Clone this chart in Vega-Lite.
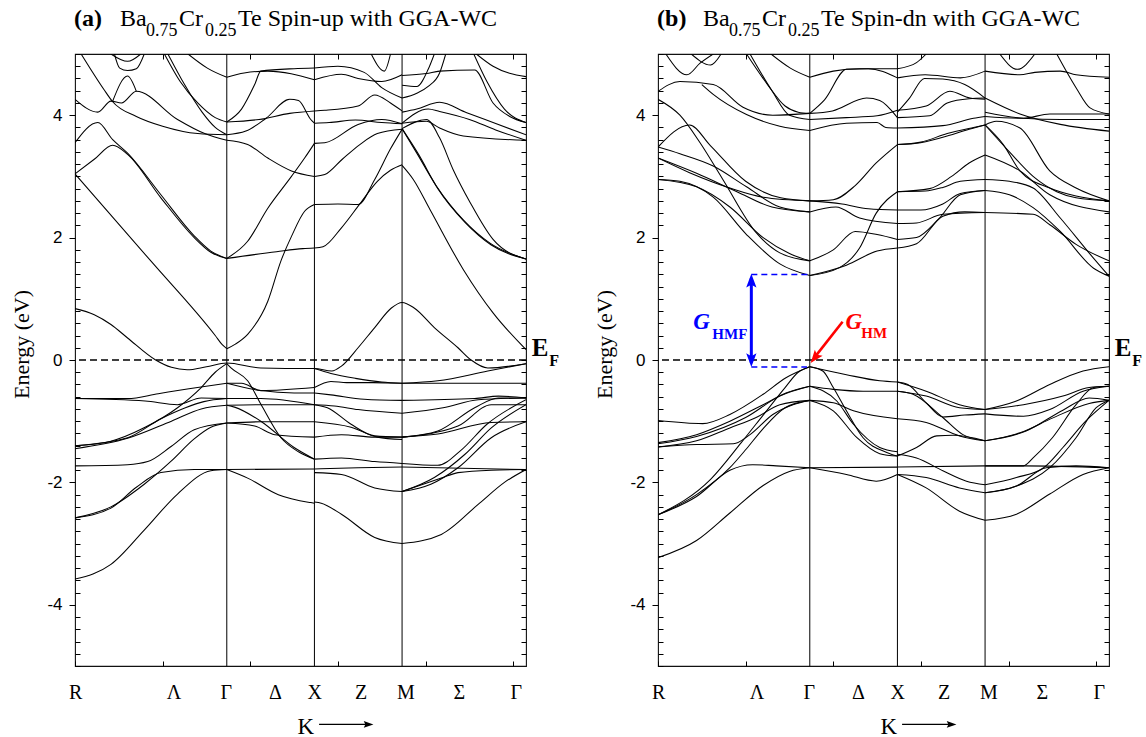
{
"$schema": "https://vega.github.io/schema/vega-lite/v6.json",
"background": "white",
"padding": {"left": 9, "top": 6, "right": 0, "bottom": 0},
"config": {"font": "Liberation Serif", "view": {"stroke": "#111", "strokeWidth": 1.1}, "axis": {"titleFont": "Liberation Serif"}},
"bounds": "flush",
"spacing": 132,
"datasets": {
"bands": [
{"p":"a","b":"a1","k":[0,0.22,0.41,0.6,0.92,1.1,1.28,1.5,1.732,2.12,2.69,2.732,2.93,3.04,3.23,3.42,3.61,3.732,3.87,4.1,4.37,4.52,4.71,5.146],"e":[0.84,0.74,0.58,0.36,0.0,-0.12,-0.16,-0.11,-0.05,-0.13,-0.14,-0.14,-0.18,-0.1,0.2,0.53,0.85,0.94,0.85,0.53,0.2,0.0,-0.13,-0.06]},
{"p":"a","b":"a2","k":[0,0.87,1.6,1.68,1.732],"e":[3.04,1.61,0.4,0.25,0.185]},
{"p":"a","b":"a3","k":[0,0.22,0.43,0.6,0.98,1.36,1.55,1.732],"e":[3.04,3.28,3.51,3.36,2.65,2.0,1.76,1.66]},
{"p":"a","b":"a4","k":[0,0.26,0.43,0.6,0.98,1.36,1.55,1.732],"e":[3.55,3.88,3.6,3.38,2.7,2.03,1.78,1.66]},
{"p":"a","b":"a5","k":[0,0.26,0.41,0.53,0.7,1.17,1.48,1.732],"e":[4.26,4.05,4.23,4.2,4.39,3.93,3.7,3.59]},
{"p":"a","b":"a6","k":[0.07,0.33,0.43,0.7,1.0,1.4,1.732],"e":[5.0,4.42,4.22,3.98,3.82,3.7,3.68]},
{"p":"a","b":"a6b","k":[0.43,0.6,0.7],"e":[4.23,4.64,4.39]},
{"p":"a","b":"a7","k":[0.41,0.6,0.75],"e":[5.0,4.88,5.0]},
{"p":"a","b":"a7b","k":[0.45,0.51,0.6,0.7,0.79],"e":[5.0,4.77,4.73,4.76,5.0]},
{"p":"a","b":"a8","k":[1.02,1.2,1.4,1.6,1.732],"e":[5.0,4.55,4.2,3.96,3.89]},
{"p":"a","b":"a9","k":[1.06,1.25,1.45,1.6,1.732],"e":[5.0,4.5,4.05,3.8,3.68]},
{"p":"a","b":"a10","k":[1.29,1.51,1.732],"e":[5.0,4.77,4.62]},
{"p":"a","b":"b1","k":[1.732,1.93,2.2,2.732],"e":[4.62,4.69,4.72,4.58]},
{"p":"a","b":"b2","k":[1.732,1.9,2.05,2.12,2.5,2.732],"e":[3.89,4.1,4.5,4.72,4.76,4.77]},
{"p":"a","b":"b3","k":[1.732,2.1,2.45,2.732],"e":[3.89,3.93,4.03,4.07]},
{"p":"a","b":"b4","k":[1.732,1.95,2.18,2.45,2.55,2.69,2.732],"e":[3.68,3.74,3.95,4.26,4.24,3.93,3.87]},
{"p":"a","b":"b5","k":[1.732,1.97,2.2,2.47,2.732],"e":[3.59,3.52,3.3,3.09,3.0]},
{"p":"a","b":"b6","k":[1.732,1.97,2.2,2.47,2.62,2.732],"e":[1.66,1.94,2.48,3.0,3.3,3.54]},
{"p":"a","b":"b7","k":[1.732,2.3,2.6,2.732],"e":[1.66,1.77,1.82,1.83]},
{"p":"a","b":"b8","k":[1.732,1.83,1.97,2.2,2.35,2.47,2.62,2.732],"e":[0.185,0.26,0.42,0.96,1.62,2.02,2.43,2.54]},
{"p":"a","b":"c1","k":[2.732,2.83,3.04,3.25,3.45,3.6,3.732],"e":[1.83,1.85,2.16,2.55,2.92,3.1,3.19]},
{"p":"a","b":"c2","k":[2.732,3.0,3.23,3.42,3.6,3.732],"e":[2.54,2.55,2.54,2.95,3.45,3.77]},
{"p":"a","b":"c3","k":[2.732,2.85,3.05,3.25,3.45,3.732],"e":[3.0,3.03,3.28,3.52,3.7,3.77]},
{"p":"a","b":"c4","k":[2.732,2.85,3.23,3.5,3.732],"e":[3.54,3.55,3.85,3.93,3.86]},
{"p":"a","b":"c5","k":[2.732,2.9,3.2,3.5,3.732],"e":[3.87,3.88,3.92,3.88,3.86]},
{"p":"a","b":"c6","k":[2.732,2.85,3.23,3.42,3.6,3.732],"e":[4.07,4.08,4.15,4.33,4.2,4.07]},
{"p":"a","b":"c7","k":[2.732,3.04,3.23,3.5,3.732],"e":[4.58,4.67,4.6,4.55,4.66]},
{"p":"a","b":"c8","k":[2.732,3.0,3.3,3.5,3.732],"e":[4.77,4.8,4.7,4.45,4.28]},
{"p":"a","b":"c9","k":[3.38,3.53,3.6],"e":[5.0,4.72,5.0]},
{"p":"a","b":"d1","k":[3.732,3.9,4.125,4.43,4.735,5.146],"e":[3.78,3.38,2.84,2.29,1.91,1.65]},
{"p":"a","b":"d1b","k":[3.732,3.92,4.14,4.45,4.75,5.146],"e":[3.78,3.36,2.8,2.25,1.88,1.65]},
{"p":"a","b":"d2","k":[3.732,3.86,4.05,4.43,4.77,5.146],"e":[3.18,2.95,2.46,1.48,0.77,0.17]},
{"p":"a","b":"d3","k":[3.732,4.01,4.16,4.315,4.51,4.77,5.146],"e":[3.78,3.93,3.63,3.11,2.57,1.97,1.65]},
{"p":"a","b":"d4","k":[3.732,4.01,4.16,4.56,4.77,4.96,5.146],"e":[4.65,4.68,4.72,4.74,4.2,3.98,3.88]},
{"p":"a","b":"d5","k":[4.58,4.77,5.146],"e":[5.0,4.8,4.63]},
{"p":"a","b":"d5b","k":[4.55,4.7,4.9,5.146],"e":[5.0,4.55,4.1,3.88]},
{"p":"a","b":"d6","k":[3.732,3.9,4.16,4.47,4.77,5.146],"e":[4.05,4.1,4.21,4.04,3.88,3.68]},
{"p":"a","b":"d7","k":[3.732,4.03,4.16,4.5,4.8,5.146],"e":[3.87,4.1,4.06,3.93,3.76,3.59]},
{"p":"a","b":"d8","k":[3.732,4.01,4.16,4.43,5.146],"e":[3.87,3.9,3.79,3.66,3.59]},
{"p":"a","b":"d9","k":[3.732,3.9,4.03,4.16,4.23],"e":[4.28,4.36,4.47,4.69,5.0]},
{"p":"a","b":"d10","k":[3.732,3.9,4.03,4.1],"e":[4.49,4.47,4.75,5.0]},
{"p":"a","b":"v1","k":[0,0.6,0.95,1.3,1.732],"e":[-0.63,-0.63,-0.55,-0.47,-0.38]},
{"p":"a","b":"v2","k":[0,0.8,1.17,1.44,1.732],"e":[-0.63,-0.67,-0.73,-0.62,-0.63]},
{"p":"a","b":"v3","k":[0,0.4,0.8,1.17,1.44,1.6,1.732],"e":[-1.4,-1.33,-1.1,-0.78,-0.45,-0.2,-0.06]},
{"p":"a","b":"v4","k":[0,0.6,0.98,1.26,1.47,1.732],"e":[-1.4,-1.27,-0.96,-0.78,-0.68,-0.63]},
{"p":"a","b":"v5","k":[0,0.6,1.1,1.44,1.732],"e":[-1.45,-1.28,-1.0,-0.8,-0.74]},
{"p":"a","b":"v6","k":[0,0.6,0.83,1.1,1.36,1.732],"e":[-1.73,-1.71,-1.66,-1.41,-1.14,-1.03]},
{"p":"a","b":"v7","k":[0,0.41,0.79,1.1,1.36,1.55,1.732],"e":[-2.58,-2.4,-2.03,-1.65,-1.29,-1.1,-1.03]},
{"p":"a","b":"v8","k":[0,0.41,0.7,0.98,1.36,1.732],"e":[-2.58,-2.42,-2.08,-1.84,-1.79,-1.79]},
{"p":"a","b":"v9","k":[0,0.41,0.79,1.17,1.55,1.732],"e":[-3.58,-3.34,-2.78,-2.19,-1.81,-1.79]},
{"p":"a","b":"w1","k":[1.732,1.9,2.12,2.732],"e":[-0.38,-0.38,-0.5,-0.45]},
{"p":"a","b":"w2","k":[1.732,2.12,2.5,2.732],"e":[-0.38,-0.5,-0.54,-0.54]},
{"p":"a","b":"w3","k":[1.732,2.12,2.732],"e":[-0.63,-0.63,-0.73]},
{"p":"a","b":"w4","k":[1.732,2.12,2.732],"e":[-0.74,-0.73,-0.73]},
{"p":"a","b":"w5","k":[1.732,2.05,2.28,2.732],"e":[-1.03,-1.08,-1.22,-1.26]},
{"p":"a","b":"w6","k":[1.732,2.12,2.732],"e":[-1.03,-1.01,-1.01]},
{"p":"a","b":"w7","k":[1.732,1.78,1.97,2.12,2.35,2.55,2.732],"e":[-0.06,-0.13,-0.34,-0.72,-1.27,-1.5,-1.62]},
{"p":"a","b":"w8","k":[1.732,1.82,2.12,2.5,2.732],"e":[-0.74,-0.77,-1.0,-1.43,-1.62]},
{"p":"a","b":"w9","k":[1.732,2.732],"e":[-1.79,-1.78]},
{"p":"a","b":"w10","k":[1.732,1.97,2.32,2.69,2.732],"e":[-1.79,-1.93,-2.2,-2.33,-2.34]},
{"p":"a","b":"e1","k":[2.732,2.92,3.2,3.5,3.732],"e":[-0.14,-0.22,-0.3,-0.36,-0.38]},
{"p":"a","b":"e2","k":[2.732,2.92,3.1,3.4,3.732],"e":[-0.45,-0.35,-0.37,-0.37,-0.38]},
{"p":"a","b":"e3","k":[2.732,2.92,3.3,3.732],"e":[-0.54,-0.57,-0.64,-0.66]},
{"p":"a","b":"e4","k":[2.732,2.96,3.23,3.732],"e":[-0.73,-0.75,-0.81,-0.87]},
{"p":"a","b":"e5","k":[2.732,2.88,3.15,3.42,3.732],"e":[-0.73,-0.78,-1.05,-1.24,-1.26]},
{"p":"a","b":"e6","k":[2.732,3.15,3.45,3.732],"e":[-1.01,-1.1,-1.26,-1.3]},
{"p":"a","b":"e7","k":[2.732,3.04,3.42,3.732],"e":[-1.26,-1.22,-1.26,-1.26]},
{"p":"a","b":"e8","k":[2.732,3.04,3.42,3.732],"e":[-1.62,-1.6,-1.66,-1.69]},
{"p":"a","b":"e9","k":[2.732,3.23,3.732],"e":[-1.78,-1.76,-1.75]},
{"p":"a","b":"e10","k":[2.732,3.04,3.42,3.732],"e":[-1.84,-1.87,-2.09,-2.15]},
{"p":"a","b":"e11","k":[2.732,2.81,3.04,3.42,3.732],"e":[-2.32,-2.34,-2.52,-2.9,-3.0]},
{"p":"a","b":"f1","k":[3.732,4.14,4.71,5.146],"e":[-0.38,-0.34,-0.18,-0.06]},
{"p":"a","b":"f2","k":[3.732,5.146],"e":[-0.38,-0.38]},
{"p":"a","b":"f3","k":[3.732,4.56,4.83,5.146],"e":[-0.66,-0.63,-0.59,-0.62]},
{"p":"a","b":"f4","k":[3.732,4.2,4.6,5.146],"e":[-0.87,-0.78,-0.65,-0.62]},
{"p":"a","b":"f5","k":[3.732,4.14,4.56,4.83,5.146],"e":[-1.26,-1.16,-0.78,-0.62,-0.62]},
{"p":"a","b":"f6","k":[3.732,4.37,4.75,5.146],"e":[-1.26,-1.08,-0.73,-0.73]},
{"p":"a","b":"f7","k":[3.732,4.14,4.75,5.146],"e":[-1.26,-1.21,-1.02,-1.01]},
{"p":"a","b":"f8","k":[3.732,4.14,4.4,4.7,5.146],"e":[-1.69,-1.72,-1.48,-1.05,-0.65]},
{"p":"a","b":"f9","k":[3.732,4.06,4.37,4.75,5.146],"e":[-2.15,-2.03,-1.76,-1.27,-1.01]},
{"p":"a","b":"f10","k":[3.732,4.1,4.45,4.75,5.146],"e":[-2.15,-1.92,-1.54,-1.11,-0.73]},
{"p":"a","b":"f11","k":[3.732,4.18,4.37,4.75,5.146],"e":[-2.15,-1.93,-1.84,-1.8,-1.79]},
{"p":"a","b":"f12","k":[3.732,4.18,4.6,4.9,5.146],"e":[-3.0,-2.85,-2.36,-2.0,-1.79]},
{"p":"a","b":"f13","k":[3.732,5.146],"e":[-1.75,-1.79]},
{"p":"b","b":"g1","k":[0,0.25,0.63,1.01,1.39,1.732],"e":[2.95,2.92,2.66,2.05,1.57,1.38]},
{"p":"b","b":"g2","k":[0,0.44,0.82,1.2,1.5,1.732],"e":[2.95,2.83,2.5,2.0,1.74,1.62]},
{"p":"b","b":"g3","k":[0,0.36,0.82,1.2,1.732],"e":[3.3,3.06,2.81,2.66,2.6]},
{"p":"b","b":"g4","k":[0,0.36,0.6,1.0,1.4,1.732],"e":[3.48,3.84,3.5,2.92,2.65,2.6]},
{"p":"b","b":"g5","k":[0,0.25,0.63,1.01,1.39,1.732],"e":[3.48,3.37,3.17,2.83,2.5,2.42]},
{"p":"b","b":"g6","k":[0,0.44,0.9,1.3,1.732],"e":[3.3,3.05,2.75,2.5,2.42]},
{"p":"b","b":"g7","k":[0,0.25,0.48,0.74,1.12,1.39,1.732],"e":[4.26,4.0,3.55,2.95,2.08,1.75,1.62]},
{"p":"b","b":"g8","k":[0,0.25,0.63,0.97,1.31,1.732],"e":[4.39,4.55,4.5,4.13,4.0,4.03]},
{"p":"b","b":"g9","k":[0.09,0.33,0.48,0.63],"e":[5.0,4.66,4.85,5.0]},
{"p":"b","b":"g9b","k":[0.38,0.6,0.72],"e":[5.0,4.82,5.0]},
{"p":"b","b":"g10","k":[1.01,1.25,1.45,1.6,1.732],"e":[5.0,4.5,4.15,4.05,4.03]},
{"p":"b","b":"g11","k":[1.05,1.3,1.5,1.732],"e":[5.0,4.4,4.0,3.93]},
{"p":"b","b":"g12","k":[0.5,0.63,1.01,1.39,1.732],"e":[4.5,4.34,4.01,3.82,3.75]},
{"p":"b","b":"g13","k":[1.29,1.51,1.732],"e":[5.0,4.77,4.62]},
{"p":"b","b":"h1","k":[1.732,2.07,2.3,2.49,2.732],"e":[1.38,1.51,1.83,2.4,2.75]},
{"p":"b","b":"h2","k":[1.732,2.15,2.5,2.732],"e":[1.38,1.55,1.78,1.83]},
{"p":"b","b":"h3","k":[1.732,2.0,2.25,2.5,2.732],"e":[1.62,1.8,2.1,2.05,1.97]},
{"p":"b","b":"h4","k":[1.732,2.03,2.3,2.732],"e":[2.42,2.5,2.32,2.23]},
{"p":"b","b":"h5","k":[1.732,2.1,2.4,2.732],"e":[2.6,2.55,2.47,2.45]},
{"p":"b","b":"h6","k":[1.732,2.0,2.25,2.49,2.732],"e":[2.6,2.62,2.85,3.22,3.52]},
{"p":"b","b":"h7","k":[1.732,2.15,2.5,2.6,2.732],"e":[3.75,3.87,3.88,3.8,3.79]},
{"p":"b","b":"h8","k":[1.732,2.15,2.5,2.732],"e":[3.93,3.96,3.99,4.08]},
{"p":"b","b":"h9","k":[1.732,1.99,2.38,2.53,2.732],"e":[4.03,4.07,4.28,4.24,3.96]},
{"p":"b","b":"h10","k":[1.732,2.0,2.3,2.732],"e":[4.62,4.72,4.76,4.76]},
{"p":"b","b":"h11","k":[1.732,1.9,2.15,2.4,2.732],"e":[4.03,4.25,4.75,4.76,4.61]},
{"p":"b","b":"i1","k":[2.732,2.95,3.25,3.5,3.732],"e":[1.83,1.9,2.35,2.42,2.41]},
{"p":"b","b":"i2","k":[2.732,2.95,3.2,3.45,3.732],"e":[1.97,2.0,2.3,2.7,2.77]},
{"p":"b","b":"i3","k":[2.732,2.95,3.25,3.732],"e":[2.23,2.24,2.38,2.41]},
{"p":"b","b":"i4","k":[2.732,3.0,3.25,3.45,3.732],"e":[2.45,2.45,2.55,2.72,2.77]},
{"p":"b","b":"i5","k":[2.732,3.05,3.25,3.45,3.732],"e":[2.75,2.76,2.82,2.92,2.95]},
{"p":"b","b":"i13","k":[2.732,3.1,3.35,3.55,3.732],"e":[2.75,2.8,3.0,3.22,3.35]},
{"p":"b","b":"i6","k":[2.732,2.95,3.25,3.55,3.732],"e":[3.52,3.54,3.64,3.77,3.84]},
{"p":"b","b":"i6b","k":[2.732,3.0,3.3,3.6,3.732],"e":[3.52,3.56,3.7,3.8,3.84]},
{"p":"b","b":"i7","k":[2.732,3.25,3.6,3.732],"e":[3.79,3.83,3.95,3.98]},
{"p":"b","b":"i8","k":[2.732,3.1,3.3,3.55,3.732],"e":[3.96,3.99,4.2,4.27,4.28]},
{"p":"b","b":"i9","k":[2.732,3.06,3.33,3.56,3.732],"e":[4.08,4.15,4.39,4.28,4.26]},
{"p":"b","b":"i10","k":[2.732,3.05,3.45,3.732],"e":[4.61,4.66,4.61,4.72]},
{"p":"b","b":"i11","k":[2.732,2.87,3.04,3.25,3.5,3.732],"e":[4.05,4.28,4.6,4.59,4.5,4.28]},
{"p":"b","b":"i12","k":[2.732,2.95,3.06],"e":[4.76,4.86,5.0]},
{"p":"b","b":"j1","k":[3.732,3.94,4.13,4.47,4.77,5.146],"e":[3.84,3.52,3.09,2.81,2.68,2.6]},
{"p":"b","b":"j2","k":[3.732,4.01,4.28,4.55,4.77,5.146],"e":[3.84,3.4,3.0,2.75,2.65,2.6]},
{"p":"b","b":"j3","k":[3.732,3.86,4.13,4.47,4.77,5.146],"e":[3.84,3.9,3.79,3.09,2.81,2.6]},
{"p":"b","b":"j4","k":[3.732,4.13,4.47,5.146],"e":[3.35,3.09,2.7,2.42]},
{"p":"b","b":"j5","k":[3.732,4.01,4.28,4.59,4.93,5.146],"e":[2.95,2.92,2.81,2.32,1.73,1.37]},
{"p":"b","b":"j6","k":[3.732,4.01,4.28,4.59,4.97,5.146],"e":[2.77,2.7,2.49,2.1,1.5,1.37]},
{"p":"b","b":"j7","k":[3.732,4.28,4.47,4.77,5.146],"e":[2.41,2.38,2.21,1.89,1.62]},
{"p":"b","b":"j8","k":[3.732,4.17,4.47,5.146],"e":[3.98,3.95,4.02,4.02]},
{"p":"b","b":"j9","k":[3.732,4.17,4.6,5.146],"e":[4.05,3.95,3.93,3.93]},
{"p":"b","b":"j10","k":[3.732,4.13,4.59,5.146],"e":[4.28,4.02,3.85,3.74]},
{"p":"b","b":"j11","k":[4.55,4.77,4.93,5.146],"e":[5.0,4.45,4.12,4.02]},
{"p":"b","b":"j12","k":[3.732,4.13,4.3,4.59,4.77,5.146],"e":[4.72,4.66,4.7,4.72,4.66,4.62]},
{"p":"b","b":"j13","k":[3.9,4.1,4.3],"e":[5.0,4.75,5.0]},
{"p":"b","b":"m1","k":[0,0.51,0.82,1.2,1.46,1.732],"e":[-0.99,-1.04,-0.89,-0.56,-0.29,-0.11]},
{"p":"b","b":"m2","k":[0,0.44,0.82,1.2,1.46,1.732],"e":[-1.35,-1.22,-1.0,-0.73,-0.54,-0.43]},
{"p":"b","b":"m3","k":[0,0.44,1.0,1.39,1.732],"e":[-1.37,-1.25,-0.94,-0.59,-0.43]},
{"p":"b","b":"m4","k":[0,0.44,0.86,1.05,1.31,1.54,1.732],"e":[-1.42,-1.38,-1.37,-1.22,-0.89,-0.73,-0.66]},
{"p":"b","b":"m5","k":[0,0.44,0.82,1.12,1.39,1.732],"e":[-1.42,-1.32,-1.11,-0.94,-0.73,-0.66]},
{"p":"b","b":"m6","k":[0,0.44,0.82,1.01,1.2,1.45,1.732],"e":[-2.53,-2.2,-1.76,-1.45,-1.12,-0.78,-0.66]},
{"p":"b","b":"m7","k":[0,0.44,0.82,1.08,1.35,1.732],"e":[-2.53,-2.23,-1.8,-1.71,-1.73,-1.76]},
{"p":"b","b":"m8","k":[0,0.44,0.82,1.2,1.5,1.732],"e":[-3.23,-2.95,-2.5,-2.05,-1.82,-1.76]},
{"p":"b","b":"m9","k":[0,0.6,0.95,1.2,1.45,1.6,1.732],"e":[-2.53,-1.95,-1.35,-0.9,-0.45,-0.2,-0.11]},
{"p":"b","b":"n1","k":[1.732,2.15,2.53,2.732],"e":[-0.11,-0.24,-0.34,-0.36]},
{"p":"b","b":"n2","k":[1.732,1.88,2.0,2.15,2.34,2.61,2.732],"e":[-0.11,-0.18,-0.45,-0.83,-1.27,-1.51,-1.57]},
{"p":"b","b":"n3","k":[1.732,2.0,2.34,2.732],"e":[-0.43,-0.48,-0.51,-0.51]},
{"p":"b","b":"n4","k":[1.732,2.04,2.23,2.53,2.732],"e":[-0.43,-0.67,-1.05,-1.43,-1.5]},
{"p":"b","b":"n5","k":[1.732,2.0,2.23,2.732],"e":[-0.66,-0.7,-0.83,-0.96]},
{"p":"b","b":"n6","k":[1.732,2.0,2.27,2.53,2.732],"e":[-0.66,-0.83,-1.27,-1.53,-1.57]},
{"p":"b","b":"n7","k":[1.732,2.15,2.49,2.732],"e":[-1.76,-1.87,-1.98,-1.87]},
{"p":"b","b":"n8","k":[1.732,2.732],"e":[-1.76,-1.75]},
{"p":"b","b":"o1","k":[2.732,3.06,3.44,3.732],"e":[-0.36,-0.51,-0.73,-0.81]},
{"p":"b","b":"o2","k":[2.732,3.06,3.44,3.732],"e":[-0.51,-0.59,-0.78,-0.81]},
{"p":"b","b":"o3","k":[2.732,2.85,3.06,3.25,3.5,3.732],"e":[-0.36,-0.4,-0.7,-0.93,-0.9,-0.88]},
{"p":"b","b":"o4","k":[2.732,2.91,3.25,3.48,3.732],"e":[-0.51,-0.56,-0.94,-1.22,-1.32]},
{"p":"b","b":"o5","k":[2.732,3.06,3.44,3.732],"e":[-0.96,-1.02,-1.24,-1.32]},
{"p":"b","b":"o6","k":[2.732,2.95,3.18,3.37,3.732],"e":[-1.57,-1.43,-1.24,-1.23,-1.32]},
{"p":"b","b":"o7","k":[2.732,3.732],"e":[-1.75,-1.73]},
{"p":"b","b":"o8","k":[2.732,2.95,3.25,3.52,3.732],"e":[-1.54,-1.6,-1.81,-1.98,-2.04]},
{"p":"b","b":"o9","k":[2.732,3.06,3.44,3.732],"e":[-1.87,-1.92,-2.09,-2.17]},
{"p":"b","b":"o10","k":[2.732,3.06,3.44,3.732],"e":[-1.87,-2.09,-2.47,-2.62]},
{"p":"b","b":"p1","k":[3.732,4.09,4.47,4.85,5.146],"e":[-0.81,-0.67,-0.4,-0.18,-0.11]},
{"p":"b","b":"p2","k":[3.732,4.17,4.62,4.92,5.146],"e":[-0.81,-0.73,-0.59,-0.45,-0.43]},
{"p":"b","b":"p3","k":[3.732,4.17,4.47,4.85,5.146],"e":[-0.88,-0.92,-0.81,-0.51,-0.43]},
{"p":"b","b":"p4","k":[3.732,4.2,4.62,4.92,5.146],"e":[-1.32,-1.16,-0.82,-0.62,-0.66]},
{"p":"b","b":"p5","k":[3.732,4.13,4.5,4.92,5.146],"e":[-1.32,-1.19,-0.95,-0.71,-0.66]},
{"p":"b","b":"p6","k":[3.732,4.17,4.28,4.5,4.77,4.97,5.146],"e":[-1.73,-1.73,-1.6,-1.27,-0.73,-0.45,-0.43]},
{"p":"b","b":"p7","k":[3.732,4.09,4.4,4.62,4.88,5.146],"e":[-2.04,-1.92,-1.76,-1.43,-1.0,-0.66]},
{"p":"b","b":"p8","k":[3.732,4.09,4.47,4.77,5.0,5.146],"e":[-2.17,-2.06,-1.76,-1.27,-0.78,-0.66]},
{"p":"b","b":"p9","k":[3.732,4.09,4.43,4.77,5.146],"e":[-2.17,-2.06,-1.76,-1.73,-1.76]},
{"p":"b","b":"p10","k":[3.732,4.09,4.47,4.85,5.146],"e":[-2.62,-2.52,-2.19,-1.87,-1.76]},
{"p":"b","b":"p11","k":[3.732,4.17,5.146],"e":[-1.73,-1.73,-1.76]}
],
"vlines": [{"k":1.732},{"k":2.732},{"k":3.732}],
"zero": [{"e":0}],
"kline": [{"k":2.785,"k2":3.32,"e":-5.955}],
"khead": [{"k":3.405,"e":-5.955}],
"tb": [{"p":"a","t":"(a)","k":-0.011,"e":5.462},{"p":"b","t":"(b)","k":-0.011,"e":5.462}],
"tm": [{"p":"a","t":"Ba","k":0.514,"e":5.462},{"p":"a","t":"Cr","k":1.187,"e":5.462},{"p":"a","t":"Te Spin-up with GGA-WC","k":1.861,"e":5.462},{"p":"b","t":"Ba","k":0.514,"e":5.462},{"p":"b","t":"Cr","k":1.187,"e":5.462},{"p":"b","t":"Te Spin-dn with GGA-WC","k":1.861,"e":5.462}],
"ts": [{"p":"a","t":"0.75","k":0.81,"e":5.299},{"p":"a","t":"0.25","k":1.484,"e":5.299},{"p":"b","t":"0.75","k":0.81,"e":5.299},{"p":"b","t":"0.25","k":1.484,"e":5.299}],
"ef": [{"p":"a","t":"E","k":5.213,"e":0.064},{"p":"b","t":"E","k":5.213,"e":0.064}],
"efs": [{"p":"a","t":"F","k":5.41,"e":-0.094},{"p":"b","t":"F","k":5.41,"e":-0.094}]
},
"hconcat": [
{
"width": 451, "height": 612,
"resolve": {"axis": {"x": "independent", "y": "independent"}},
"layer": [
{"data": {"name": "bands"}, "transform": [{"filter": "datum.p == 'a'"}, {"flatten": ["k", "e"]}],
 "mark": {"type": "line", "color": "black", "strokeWidth": 1.05, "clip": true, "interpolate": "monotone"},
 "encoding": {
  "x": {"field": "k", "type": "quantitative", "scale": {"domain": [0, 5.146], "nice": false, "zero": false},
   "axis": {"orient": "bottom", "values": [0, 0.001, 1, 1.124, 1.72, 2, 2.28, 2.73, 3, 3.26, 3.77, 4, 4.38, 5, 5.03],
    "labelExpr": "datum.value == 0.001 ? 'R' : datum.value == 1.124 ? 'Λ' : datum.value == 1.72 ? 'Γ' : datum.value == 2.28 ? 'Δ' : datum.value == 2.73 ? 'X' : datum.value == 3.26 ? 'Z' : datum.value == 3.77 ? 'M' : datum.value == 4.38 ? 'Σ' : datum.value == 5.03 ? 'Γ' : ''",
    "tickSize": {"condition": {"test": "datum.value == 0 || datum.value == 1 || datum.value == 2 || datum.value == 3 || datum.value == 4 || datum.value == 5", "value": -5}, "value": 0},
    "tickColor": "black", "labelFont": "Liberation Serif", "labelFontSize": 20, "labelColor": "black", "labelPadding": 16,
    "labelOverlap": false, "labelFlush": false, "labelBound": false, "domain": false, "grid": false,
    "title": "K", "titleFont": "Liberation Serif", "titleFontSize": 23, "titleFontWeight": "normal", "titleColor": "black",
    "titleX": 222, "titleY": 67, "titleAlign": "left", "titleBaseline": "alphabetic"}},
  "y": {"field": "e", "type": "quantitative", "scale": {"domain": [-5, 5], "nice": false, "zero": false},
   "axis": {"orient": "left", "values": [-5,-4.8,-4.6,-4.4,-4.2,-4,-3.8,-3.6,-3.4,-3.2,-3,-2.8,-2.6,-2.4,-2.2,-2,-1.8,-1.6,-1.4,-1.2,-1,-0.8,-0.6,-0.4,-0.2,0,0.2,0.4,0.6,0.8,1,1.2,1.4,1.6,1.8,2,2.2,2.4,2.6,2.8,3,3.2,3.4,3.6,3.8,4,4.2,4.4,4.6,4.8,5],
    "labelExpr": "(datum.value == -4 || datum.value == -2 || datum.value == 0 || datum.value == 2 || datum.value == 4) ? ((datum.value < 0 ? '-' : '') + abs(datum.value)) : ''",
    "tickSize": {"condition": {"test": "datum.value == -4 || datum.value == -2 || datum.value == 0 || datum.value == 2 || datum.value == 4", "value": 6}, "value": -5},
    "tickColor": "black", "labelFont": "Liberation Sans", "labelFontSize": 17, "labelColor": "black", "labelPadding": 7,
    "labelOverlap": false, "domain": false, "grid": false,
    "title": "Energy (eV)", "titleFont": "Liberation Serif", "titleFontSize": 22, "titleFontWeight": "normal", "titleColor": "black",
    "titleX": -54, "titleY": 290, "titleAngle": -90, "titleAlign": "center", "titleBaseline": "middle"}},
  "detail": {"field": "b"}
 }},
{"data": {"name": "vlines"}, "mark": {"type": "rule", "color": "black", "strokeWidth": 1},
 "encoding": {"x": {"field": "k", "type": "quantitative", "scale": {"domain": [0, 5.146], "nice": false, "zero": false},
  "axis": {"orient": "top", "values": [1, 2, 3, 4, 5], "tickSize": -5, "labels": false, "domain": false, "grid": false, "title": null, "tickColor": "black"}}}},
{"data": {"name": "zero"}, "mark": {"type": "rule", "color": "black", "strokeWidth": 1.3, "strokeDash": [7, 4]},
 "encoding": {"y": {"field": "e", "type": "quantitative", "scale": {"domain": [-5, 5], "nice": false, "zero": false},
  "axis": {"orient": "right", "values": [-4.8,-4.6,-4.4,-4.2,-4,-3.8,-3.6,-3.4,-3.2,-3,-2.8,-2.6,-2.4,-2.2,-2,-1.8,-1.6,-1.4,-1.2,-1,-0.8,-0.6,-0.4,-0.2,0,0.2,0.4,0.6,0.8,1,1.2,1.4,1.6,1.8,2,2.2,2.4,2.6,2.8,3,3.2,3.4,3.6,3.8,4,4.2,4.4,4.6,4.8], "tickSize": -5, "labels": false, "domain": false, "grid": false, "title": null, "tickColor": "black"}}}},
{"data": {"name": "kline"}, "mark": {"type": "rule", "color": "black", "strokeWidth": 1.2},
 "encoding": {"x": {"field": "k", "type": "quantitative", "scale": {"domain": [0, 5.146], "nice": false, "zero": false}, "axis": null}, "x2": {"field": "k2"},
  "y": {"field": "e", "type": "quantitative", "scale": {"domain": [-5, 5], "nice": false, "zero": false}, "axis": null}}},
{"data": {"name": "khead"},
 "mark": {"type": "point", "shape": "M0,0L-0.42,1.2L0,1.0L0.42,1.2Z", "filled": true, "color": "black", "opacity": 1, "size": 260, "angle": 90},
 "encoding": {"x": {"field": "k", "type": "quantitative", "scale": {"domain": [0, 5.146], "nice": false, "zero": false}, "axis": null},
  "y": {"field": "e", "type": "quantitative", "scale": {"domain": [-5, 5], "nice": false, "zero": false}, "axis": null}}},
{"data": {"name": "tb"}, "transform": [{"filter": "datum.p == 'a'"}],
 "mark": {"type": "text", "align": "left", "baseline": "alphabetic", "font": "Liberation Serif", "fontSize": 24, "fontWeight": "bold", "color": "black"},
 "encoding": {"x": {"field": "k", "type": "quantitative", "scale": {"domain": [0, 5.146], "nice": false, "zero": false}, "axis": null},
  "y": {"field": "e", "type": "quantitative", "scale": {"domain": [-5, 5], "nice": false, "zero": false}, "axis": null}, "text": {"field": "t"}}},
{"data": {"name": "tm"}, "transform": [{"filter": "datum.p == 'a'"}],
 "mark": {"type": "text", "align": "left", "baseline": "alphabetic", "font": "Liberation Serif", "fontSize": 24, "color": "black"},
 "encoding": {"x": {"field": "k", "type": "quantitative", "scale": {"domain": [0, 5.146], "nice": false, "zero": false}, "axis": null},
  "y": {"field": "e", "type": "quantitative", "scale": {"domain": [-5, 5], "nice": false, "zero": false}, "axis": null}, "text": {"field": "t"}}},
{"data": {"name": "ts"}, "transform": [{"filter": "datum.p == 'a'"}],
 "mark": {"type": "text", "align": "left", "baseline": "alphabetic", "font": "Liberation Serif", "fontSize": 18, "color": "black"},
 "encoding": {"x": {"field": "k", "type": "quantitative", "scale": {"domain": [0, 5.146], "nice": false, "zero": false}, "axis": null},
  "y": {"field": "e", "type": "quantitative", "scale": {"domain": [-5, 5], "nice": false, "zero": false}, "axis": null}, "text": {"field": "t"}}},
{"data": {"name": "ef"}, "transform": [{"filter": "datum.p == 'a'"}],
 "mark": {"type": "text", "align": "left", "baseline": "alphabetic", "font": "Liberation Serif", "fontSize": 25, "fontWeight": "bold", "color": "black"},
 "encoding": {"x": {"field": "k", "type": "quantitative", "scale": {"domain": [0, 5.146], "nice": false, "zero": false}, "axis": null},
  "y": {"field": "e", "type": "quantitative", "scale": {"domain": [-5, 5], "nice": false, "zero": false}, "axis": null}, "text": {"field": "t"}}},
{"data": {"name": "efs"}, "transform": [{"filter": "datum.p == 'a'"}],
 "mark": {"type": "text", "align": "left", "baseline": "alphabetic", "font": "Liberation Serif", "fontSize": 16, "fontWeight": "bold", "color": "black"},
 "encoding": {"x": {"field": "k", "type": "quantitative", "scale": {"domain": [0, 5.146], "nice": false, "zero": false}, "axis": null},
  "y": {"field": "e", "type": "quantitative", "scale": {"domain": [-5, 5], "nice": false, "zero": false}, "axis": null}, "text": {"field": "t"}}}
]
},
{
"width": 451, "height": 612,
"resolve": {"axis": {"x": "independent", "y": "independent"}},
"layer": [
{"data": {"name": "bands"}, "transform": [{"filter": "datum.p == 'b'"}, {"flatten": ["k", "e"]}],
 "mark": {"type": "line", "color": "black", "strokeWidth": 1.05, "clip": true, "interpolate": "monotone"},
 "encoding": {
  "x": {"field": "k", "type": "quantitative", "scale": {"domain": [0, 5.146], "nice": false, "zero": false},
   "axis": {"orient": "bottom", "values": [0, 0.001, 1, 1.124, 1.72, 2, 2.28, 2.73, 3, 3.26, 3.77, 4, 4.38, 5, 5.03],
    "labelExpr": "datum.value == 0.001 ? 'R' : datum.value == 1.124 ? 'Λ' : datum.value == 1.72 ? 'Γ' : datum.value == 2.28 ? 'Δ' : datum.value == 2.73 ? 'X' : datum.value == 3.26 ? 'Z' : datum.value == 3.77 ? 'M' : datum.value == 4.38 ? 'Σ' : datum.value == 5.03 ? 'Γ' : ''",
    "tickSize": {"condition": {"test": "datum.value == 0 || datum.value == 1 || datum.value == 2 || datum.value == 3 || datum.value == 4 || datum.value == 5", "value": -5}, "value": 0},
    "tickColor": "black", "labelFont": "Liberation Serif", "labelFontSize": 20, "labelColor": "black", "labelPadding": 16,
    "labelOverlap": false, "labelFlush": false, "labelBound": false, "domain": false, "grid": false,
    "title": "K", "titleFont": "Liberation Serif", "titleFontSize": 23, "titleFontWeight": "normal", "titleColor": "black",
    "titleX": 222, "titleY": 67, "titleAlign": "left", "titleBaseline": "alphabetic"}},
  "y": {"field": "e", "type": "quantitative", "scale": {"domain": [-5, 5], "nice": false, "zero": false},
   "axis": {"orient": "left", "values": [-5,-4.8,-4.6,-4.4,-4.2,-4,-3.8,-3.6,-3.4,-3.2,-3,-2.8,-2.6,-2.4,-2.2,-2,-1.8,-1.6,-1.4,-1.2,-1,-0.8,-0.6,-0.4,-0.2,0,0.2,0.4,0.6,0.8,1,1.2,1.4,1.6,1.8,2,2.2,2.4,2.6,2.8,3,3.2,3.4,3.6,3.8,4,4.2,4.4,4.6,4.8,5],
    "labelExpr": "(datum.value == -4 || datum.value == -2 || datum.value == 0 || datum.value == 2 || datum.value == 4) ? ((datum.value < 0 ? '-' : '') + abs(datum.value)) : ''",
    "tickSize": {"condition": {"test": "datum.value == -4 || datum.value == -2 || datum.value == 0 || datum.value == 2 || datum.value == 4", "value": 6}, "value": -5},
    "tickColor": "black", "labelFont": "Liberation Sans", "labelFontSize": 17, "labelColor": "black", "labelPadding": 7,
    "labelOverlap": false, "domain": false, "grid": false,
    "title": "Energy (eV)", "titleFont": "Liberation Serif", "titleFontSize": 22, "titleFontWeight": "normal", "titleColor": "black",
    "titleX": -54, "titleY": 290, "titleAngle": -90, "titleAlign": "center", "titleBaseline": "middle"}},
  "detail": {"field": "b"}
 }},
{"data": {"name": "vlines"}, "mark": {"type": "rule", "color": "black", "strokeWidth": 1},
 "encoding": {"x": {"field": "k", "type": "quantitative", "scale": {"domain": [0, 5.146], "nice": false, "zero": false},
  "axis": {"orient": "top", "values": [1, 2, 3, 4, 5], "tickSize": -5, "labels": false, "domain": false, "grid": false, "title": null, "tickColor": "black"}}}},
{"data": {"name": "zero"}, "mark": {"type": "rule", "color": "black", "strokeWidth": 1.3, "strokeDash": [7, 4]},
 "encoding": {"y": {"field": "e", "type": "quantitative", "scale": {"domain": [-5, 5], "nice": false, "zero": false},
  "axis": {"orient": "right", "values": [-4.8,-4.6,-4.4,-4.2,-4,-3.8,-3.6,-3.4,-3.2,-3,-2.8,-2.6,-2.4,-2.2,-2,-1.8,-1.6,-1.4,-1.2,-1,-0.8,-0.6,-0.4,-0.2,0,0.2,0.4,0.6,0.8,1,1.2,1.4,1.6,1.8,2,2.2,2.4,2.6,2.8,3,3.2,3.4,3.6,3.8,4,4.2,4.4,4.6,4.8], "tickSize": -5, "labels": false, "domain": false, "grid": false, "title": null, "tickColor": "black"}}}},
{"data": {"name": "kline"}, "mark": {"type": "rule", "color": "black", "strokeWidth": 1.2},
 "encoding": {"x": {"field": "k", "type": "quantitative", "scale": {"domain": [0, 5.146], "nice": false, "zero": false}, "axis": null}, "x2": {"field": "k2"},
  "y": {"field": "e", "type": "quantitative", "scale": {"domain": [-5, 5], "nice": false, "zero": false}, "axis": null}}},
{"data": {"name": "khead"},
 "mark": {"type": "point", "shape": "M0,0L-0.42,1.2L0,1.0L0.42,1.2Z", "filled": true, "color": "black", "opacity": 1, "size": 260, "angle": 90},
 "encoding": {"x": {"field": "k", "type": "quantitative", "scale": {"domain": [0, 5.146], "nice": false, "zero": false}, "axis": null},
  "y": {"field": "e", "type": "quantitative", "scale": {"domain": [-5, 5], "nice": false, "zero": false}, "axis": null}}},
{"data": {"values": [{"k": 1.065, "k2": 1.732, "e": 1.397}, {"k": 1.065, "k2": 1.7, "e": -0.115}]},
 "mark": {"type": "rule", "color": "#0000ff", "strokeWidth": 1.4, "strokeDash": [6, 4]},
 "encoding": {"x": {"field": "k", "type": "quantitative", "scale": {"domain": [0, 5.146], "nice": false, "zero": false}, "axis": null}, "x2": {"field": "k2"},
  "y": {"field": "e", "type": "quantitative", "scale": {"domain": [-5, 5], "nice": false, "zero": false}, "axis": null}}},
{"data": {"values": [{"k": 1.065, "e": -0.05, "e2": 1.34}]},
 "mark": {"type": "rule", "color": "#0000ff", "strokeWidth": 3},
 "encoding": {"x": {"field": "k", "type": "quantitative", "scale": {"domain": [0, 5.146], "nice": false, "zero": false}, "axis": null},
  "y": {"field": "e", "type": "quantitative", "scale": {"domain": [-5, 5], "nice": false, "zero": false}, "axis": null}, "y2": {"field": "e2"}}},
{"data": {"values": [{"k": 1.065, "e": 1.408}]},
 "mark": {"type": "point", "shape": "M0,0L-0.45,1.2L0,0.95L0.45,1.2Z", "filled": true, "color": "#0000ff", "opacity": 1, "size": 520, "angle": 0},
 "encoding": {"x": {"field": "k", "type": "quantitative", "scale": {"domain": [0, 5.146], "nice": false, "zero": false}, "axis": null},
  "y": {"field": "e", "type": "quantitative", "scale": {"domain": [-5, 5], "nice": false, "zero": false}, "axis": null}}},
{"data": {"values": [{"k": 1.065, "e": -0.115}]},
 "mark": {"type": "point", "shape": "M0,0L-0.45,1.2L0,0.95L0.45,1.2Z", "filled": true, "color": "#0000ff", "opacity": 1, "size": 520, "angle": 180},
 "encoding": {"x": {"field": "k", "type": "quantitative", "scale": {"domain": [0, 5.146], "nice": false, "zero": false}, "axis": null},
  "y": {"field": "e", "type": "quantitative", "scale": {"domain": [-5, 5], "nice": false, "zero": false}, "axis": null}}},
{"data": {"values": [{"k": 2.106, "e": 0.624, "k2": 1.78, "e2": 0.03}]},
 "mark": {"type": "rule", "color": "#ff0000", "strokeWidth": 2.6},
 "encoding": {"x": {"field": "k", "type": "quantitative", "scale": {"domain": [0, 5.146], "nice": false, "zero": false}, "axis": null}, "x2": {"field": "k2"},
  "y": {"field": "e", "type": "quantitative", "scale": {"domain": [-5, 5], "nice": false, "zero": false}, "axis": null}, "y2": {"field": "e2"}}},
{"data": {"values": [{"k": 1.742, "e": -0.05}]},
 "mark": {"type": "point", "shape": "M0,0L-0.45,1.2L0,0.95L0.45,1.2Z", "filled": true, "color": "#ff0000", "opacity": 1, "size": 480, "angle": 217.8},
 "encoding": {"x": {"field": "k", "type": "quantitative", "scale": {"domain": [0, 5.146], "nice": false, "zero": false}, "axis": null},
  "y": {"field": "e", "type": "quantitative", "scale": {"domain": [-5, 5], "nice": false, "zero": false}, "axis": null}}},
{"data": {"values": [{"t": "G", "k": 0.403, "e": 0.51}]},
 "mark": {"type": "text", "align": "left", "baseline": "alphabetic", "font": "Liberation Serif", "fontSize": 23, "fontWeight": "bold", "fontStyle": "italic", "color": "#0000ff"},
 "encoding": {"x": {"field": "k", "type": "quantitative", "scale": {"domain": [0, 5.146], "nice": false, "zero": false}, "axis": null},
  "y": {"field": "e", "type": "quantitative", "scale": {"domain": [-5, 5], "nice": false, "zero": false}, "axis": null}, "text": {"field": "t"}}},
{"data": {"values": [{"t": "HMF", "k": 0.62, "e": 0.335}]},
 "mark": {"type": "text", "align": "left", "baseline": "alphabetic", "font": "Liberation Serif", "fontSize": 15, "fontWeight": "bold", "color": "#0000ff"},
 "encoding": {"x": {"field": "k", "type": "quantitative", "scale": {"domain": [0, 5.146], "nice": false, "zero": false}, "axis": null},
  "y": {"field": "e", "type": "quantitative", "scale": {"domain": [-5, 5], "nice": false, "zero": false}, "axis": null}, "text": {"field": "t"}}},
{"data": {"values": [{"t": "G", "k": 2.138, "e": 0.51}]},
 "mark": {"type": "text", "align": "left", "baseline": "alphabetic", "font": "Liberation Serif", "fontSize": 23, "fontWeight": "bold", "fontStyle": "italic", "color": "#ff0000"},
 "encoding": {"x": {"field": "k", "type": "quantitative", "scale": {"domain": [0, 5.146], "nice": false, "zero": false}, "axis": null},
  "y": {"field": "e", "type": "quantitative", "scale": {"domain": [-5, 5], "nice": false, "zero": false}, "axis": null}, "text": {"field": "t"}}},
{"data": {"values": [{"t": "HM", "k": 2.32, "e": 0.363}]},
 "mark": {"type": "text", "align": "left", "baseline": "alphabetic", "font": "Liberation Serif", "fontSize": 15, "fontWeight": "bold", "color": "#ff0000"},
 "encoding": {"x": {"field": "k", "type": "quantitative", "scale": {"domain": [0, 5.146], "nice": false, "zero": false}, "axis": null},
  "y": {"field": "e", "type": "quantitative", "scale": {"domain": [-5, 5], "nice": false, "zero": false}, "axis": null}, "text": {"field": "t"}}},
{"data": {"name": "tb"}, "transform": [{"filter": "datum.p == 'b'"}],
 "mark": {"type": "text", "align": "left", "baseline": "alphabetic", "font": "Liberation Serif", "fontSize": 24, "fontWeight": "bold", "color": "black"},
 "encoding": {"x": {"field": "k", "type": "quantitative", "scale": {"domain": [0, 5.146], "nice": false, "zero": false}, "axis": null},
  "y": {"field": "e", "type": "quantitative", "scale": {"domain": [-5, 5], "nice": false, "zero": false}, "axis": null}, "text": {"field": "t"}}},
{"data": {"name": "tm"}, "transform": [{"filter": "datum.p == 'b'"}],
 "mark": {"type": "text", "align": "left", "baseline": "alphabetic", "font": "Liberation Serif", "fontSize": 24, "color": "black"},
 "encoding": {"x": {"field": "k", "type": "quantitative", "scale": {"domain": [0, 5.146], "nice": false, "zero": false}, "axis": null},
  "y": {"field": "e", "type": "quantitative", "scale": {"domain": [-5, 5], "nice": false, "zero": false}, "axis": null}, "text": {"field": "t"}}},
{"data": {"name": "ts"}, "transform": [{"filter": "datum.p == 'b'"}],
 "mark": {"type": "text", "align": "left", "baseline": "alphabetic", "font": "Liberation Serif", "fontSize": 18, "color": "black"},
 "encoding": {"x": {"field": "k", "type": "quantitative", "scale": {"domain": [0, 5.146], "nice": false, "zero": false}, "axis": null},
  "y": {"field": "e", "type": "quantitative", "scale": {"domain": [-5, 5], "nice": false, "zero": false}, "axis": null}, "text": {"field": "t"}}},
{"data": {"name": "ef"}, "transform": [{"filter": "datum.p == 'b'"}],
 "mark": {"type": "text", "align": "left", "baseline": "alphabetic", "font": "Liberation Serif", "fontSize": 25, "fontWeight": "bold", "color": "black"},
 "encoding": {"x": {"field": "k", "type": "quantitative", "scale": {"domain": [0, 5.146], "nice": false, "zero": false}, "axis": null},
  "y": {"field": "e", "type": "quantitative", "scale": {"domain": [-5, 5], "nice": false, "zero": false}, "axis": null}, "text": {"field": "t"}}},
{"data": {"name": "efs"}, "transform": [{"filter": "datum.p == 'b'"}],
 "mark": {"type": "text", "align": "left", "baseline": "alphabetic", "font": "Liberation Serif", "fontSize": 16, "fontWeight": "bold", "color": "black"},
 "encoding": {"x": {"field": "k", "type": "quantitative", "scale": {"domain": [0, 5.146], "nice": false, "zero": false}, "axis": null},
  "y": {"field": "e", "type": "quantitative", "scale": {"domain": [-5, 5], "nice": false, "zero": false}, "axis": null}, "text": {"field": "t"}}}
]
}
]
}
